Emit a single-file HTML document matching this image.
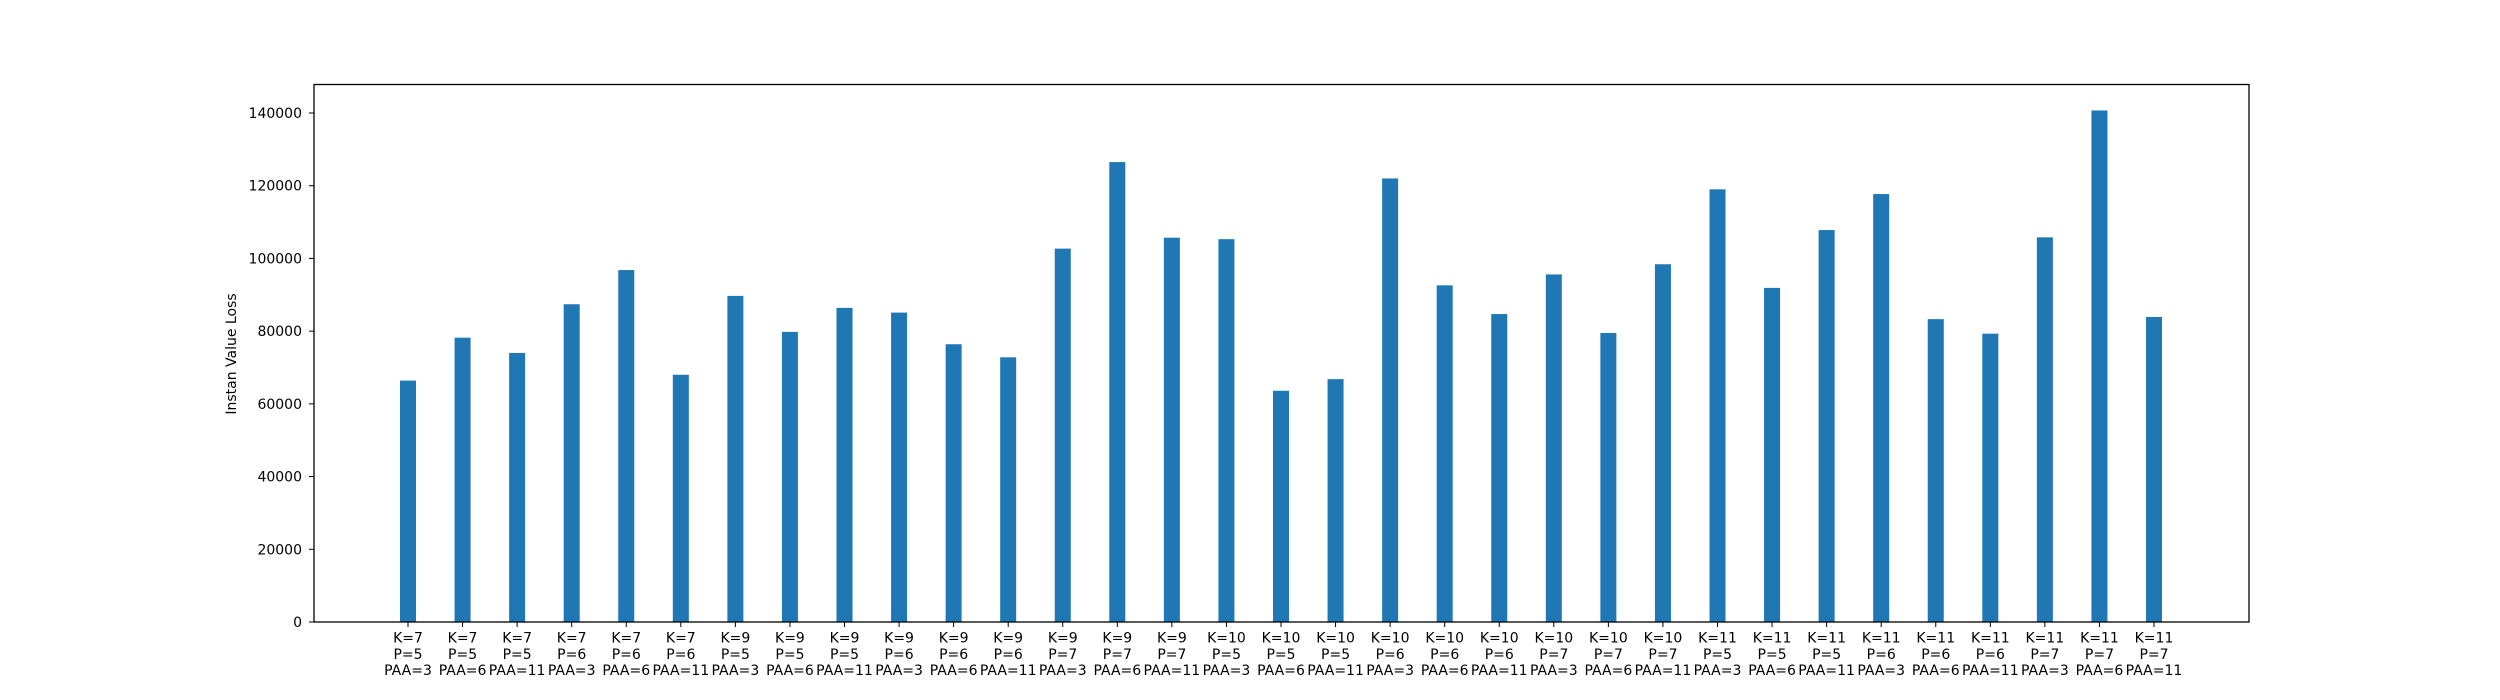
<!DOCTYPE html>
<html><head><meta charset="utf-8"><style>
html,body{margin:0;padding:0;background:#fff;}
svg{display:block;font-family:"DejaVu Sans","Liberation Sans",sans-serif;}
</style></head><body>
<svg id="chart" width="2500" height="700" viewBox="0 0 2500 700" xmlns="http://www.w3.org/2000/svg">
<rect x="0" y="0" width="2500" height="700" fill="#fff"/>
<g id="bars"></g>
<g id="xticks"></g>
<g id="yticks"></g>
<rect x="314" y="84.5" width="1935" height="537.5" fill="none" stroke="#000" stroke-width="1.3"/>
<text x="236" y="354" font-size="14" text-anchor="middle" transform="rotate(-90 236 354)">Instan Value Loss</text>
</svg>
<script>
const kLabels = ["7","7","7","7","7","7","9","9","9","9","9","9","9","9","9","10","10","10","10","10","10","10","10","10","11","11","11","11","11","11","11","11","11"];
const pLabels = ["5","5","5","6","6","6","5","5","5","6","6","6","7","7","7","5","5","5","6","6","6","7","7","7","5","5","5","6","6","6","7","7","7"];
const paaLabels = ["3","6","11","3","6","11","3","6","11","3","6","11","3","6","11","3","6","11","3","6","11","3","6","11","3","6","11","3","6","11","3","6","11"];
const values = [66400,78200,74000,87400,96800,68000,89700,79800,86400,85100,76400,72800,102700,126500,105700,105300,63600,66800,122000,92600,84700,95600,79500,98400,119000,91900,107800,117700,83300,79300,105800,140700,83900];
const yTicks = [0,20000,40000,60000,80000,100000,120000,140000];

const NS = "http://www.w3.org/2000/svg";
const plotBottom = 622, pxPer1000 = (622-113)/140;
function yScale(v){ return plotBottom - v/1000*pxPer1000; }
const firstX = 408, lastX = 2154;
function xScale(i){ return firstX + i*(lastX-firstX)/(values.length-1); }
const barW = 16;

const gb = document.getElementById('bars');
const gx = document.getElementById('xticks');
const gy = document.getElementById('yticks');
values.forEach((v,i)=>{
  const cx = xScale(i);
  const r = document.createElementNS(NS,'rect');
  r.setAttribute('x', cx-barW/2);
  r.setAttribute('y', yScale(v));
  r.setAttribute('width', barW);
  r.setAttribute('height', plotBottom-yScale(v));
  r.setAttribute('fill', '#1f77b4');
  
  
  gb.appendChild(r);
  const t = document.createElementNS(NS,'line');
  t.setAttribute('x1',cx); t.setAttribute('x2',cx);
  t.setAttribute('y1',plotBottom); t.setAttribute('y2',plotBottom+5);
  t.setAttribute('stroke','#000');
  
  
  gx.appendChild(t);
  const lab = document.createElementNS(NS,'text');
  lab.setAttribute('x',cx);
  lab.setAttribute('font-size','14');
  lab.setAttribute('text-anchor','middle');
  
  
  const lines = ["K="+kLabels[i],"P="+pLabels[i],"PAA="+paaLabels[i]];
  lines.forEach((s,j)=>{
    const ts = document.createElementNS(NS,'tspan');
    ts.setAttribute('x',cx);
    ts.setAttribute('y',642.5+j*16.3);
    ts.textContent = s;
    lab.appendChild(ts);
  });
  gx.appendChild(lab);
});
yTicks.forEach(v=>{
  const y = yScale(v);
  const t = document.createElementNS(NS,'line');
  t.setAttribute('x1',309); t.setAttribute('x2',314);
  t.setAttribute('y1',y); t.setAttribute('y2',y);
  t.setAttribute('stroke','#000');
  
  
  gy.appendChild(t);
  const lab = document.createElementNS(NS,'text');
  lab.setAttribute('x',302);
  lab.setAttribute('y',y+5);
  lab.setAttribute('font-size','14');
  lab.setAttribute('text-anchor','end');
  
  
  lab.textContent = String(v);
  gy.appendChild(lab);
});
</script>
</body></html>
